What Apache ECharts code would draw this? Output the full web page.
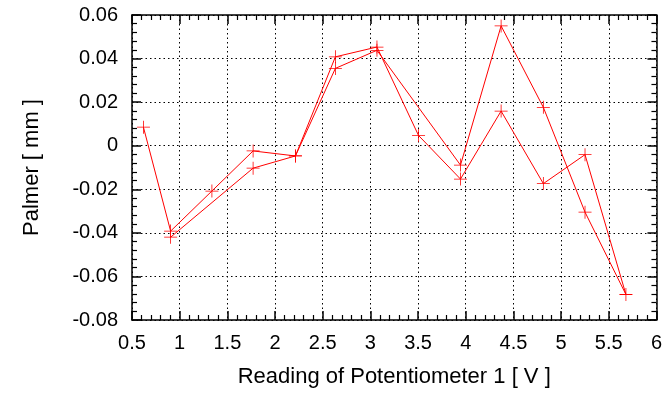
<!DOCTYPE html>
<html><head><meta charset="utf-8">
<script src="https://cdn.jsdelivr.net/npm/echarts@6/dist/echarts.min.js"></script>
<style>html,body{margin:0;padding:0;background:#fff}#c{width:665px;height:393px}</style>
</head><body><div id="c"></div>
<script>
// Potentiometer reading [V] in measurement order
var xValues = [0.62, 0.905, 1.338, 1.77, 2.214, 2.633, 3.069, 3.505, 3.945, 4.371, 4.814, 5.251, 5.68,
               5.251, 4.814, 4.371, 3.945, 3.069, 2.633, 2.214, 1.77, 0.905];
// Palmer [mm]
var yValues = [0.0085, -0.0392, -0.0208, -0.0024, -0.0047, 0.0408, 0.0453, 0.0047, -0.0153, 0.0159, -0.0174, -0.0041, -0.0683,
               -0.0305, 0.0176, 0.055, -0.0089, 0.0438, 0.0355, -0.0047, -0.0103, -0.042];
var xTicks = ['0.5','1','1.5','2','2.5','3','3.5','4','4.5','5','5.5','6'];
var yTicks = ['-0.08','-0.06','-0.04','-0.02','0','0.02','0.04','0.06'];

var data = xValues.map(function(x, i){ return [x, yValues[i]]; });
var font = '"Liberation Sans", Arial, Helvetica, sans-serif';
var chart = echarts.init(document.getElementById('c'), null, {renderer: 'canvas'});

function axisCommon(show) {
  return {
    axisLine: {show: true, onZero: false, lineStyle: {color: '#000', width: 1.5}},
    axisTick: {show: true, inside: true, length: 9, lineStyle: {color: '#000', width: 1.5}},
    minorTick: {show: true, splitNumber: 5, length: 5, lineStyle: {color: '#000', width: 1.2}},
    axisLabel: {show: show, color: '#000', fontFamily: font, fontSize: 20},
  };
}
var xMin = parseFloat(xTicks[0]), xMax = parseFloat(xTicks[xTicks.length-1]);
var yMin = parseFloat(yTicks[0]), yMax = parseFloat(yTicks[yTicks.length-1]);

var xBottom = Object.assign(axisCommon(true), {
  type: 'value', position: 'bottom', min: xMin, max: xMax, interval: 0.5,
  name: 'Reading of Potentiometer 1 [ V ]', nameLocation: 'middle', nameGap: 46,
  nameTextStyle: {color: '#000', fontFamily: font, fontSize: 22},
  splitLine: {show: true, lineStyle: {color: '#000', type: [1.5, 3], width: 1}}
});
xBottom.axisLabel.margin = 13;
var xTop = Object.assign(axisCommon(false), {
  type: 'value', position: 'top', min: xMin, max: xMax, interval: 0.5, splitLine: {show: false}
});
var yLeft = Object.assign(axisCommon(true), {
  type: 'value', position: 'left', min: yMin, max: yMax, interval: 0.02,
  name: 'Palmer [ mm ]', nameLocation: 'middle', nameGap: 89, nameRotate: 90,
  nameTextStyle: {color: '#000', fontFamily: font, fontSize: 22},
  splitLine: {show: true, lineStyle: {color: '#000', type: [1.5, 3], width: 1}}
});
yLeft.axisLabel.margin = 14;
yLeft.axisLabel.formatter = function(v){ return (+v.toFixed(2)).toString(); };
var yRight = Object.assign(axisCommon(false), {
  type: 'value', position: 'right', min: yMin, max: yMax, interval: 0.02, splitLine: {show: false}
});

chart.setOption({
  animation: false,
  backgroundColor: '#fff',
  grid: {left: 132, right: 8, top: 15, bottom: 70},
  xAxis: [xBottom, xTop],
  yAxis: [yLeft, yRight],
  series: [{
    type: 'line',
    xAxisIndex: 0, yAxisIndex: 0,
    data: data,
    symbol: 'path://M0,9.4h20v1.2h-20z M9.4,0h1.2v20h-1.2z',
    symbolSize: 13,
    showAllSymbol: true,
    lineStyle: {color: '#ff0000', width: 1},
    itemStyle: {color: '#ff0000'},
    z: 5
  }]
});
</script></body></html>
